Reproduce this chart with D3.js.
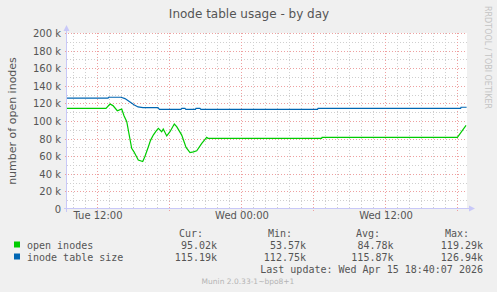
<!DOCTYPE html>
<html><head><meta charset="utf-8">
<script src="https://cdn.jsdelivr.net/npm/d3@7"></script>
<style>
html,body{margin:0;padding:0;background:#f0f0f0;}
svg{display:block;}
</style></head>
<body>
<svg id="chart" width="497" height="292"></svg>
<script>
// ---- data (hours since Tue 00:00) ----
const title = "Inode table usage - by day";
const yLabel = "number of open inodes";
const yTicks = [0, 20000, 40000, 60000, 80000, 100000, 120000, 140000, 160000, 180000, 200000];
const xTickHours = [12, 24, 36];
const xTickLabels = ["Tue 12:00", "Wed 00:00", "Wed 12:00"];
const xDomain = [9.5, 42.83];

const openHours = [9.5, 12.75, 13.08, 13.33, 13.69, 13.83, 14.06, 14.25, 14.48, 14.67, 14.89, 15.08, 15.44,
  15.81, 16.0, 16.28, 16.46, 16.69, 16.92, 17.11, 17.39, 17.52, 17.81, 18.08, 18.44, 18.64, 19.06, 19.42,
  19.75, 20.03, 20.31, 20.73, 21.14, 21.25, 30.72, 30.75, 42.03, 42.75];
const openValues = [114400, 114400, 119300, 117500, 111700, 112300, 113600, 106000, 99200, 85000, 69000, 65000, 55700,
  54000, 60000, 70800, 78000, 84000, 88500, 91700, 87800, 90900, 83000, 87800, 96600, 93500, 84000, 70000,
  64000, 65000, 66200, 74600, 81400, 80300, 80300, 81400, 81400, 95020];
const openAvg = [84780], openMin = [53570], openMax = [119290], openCur = [95020];

const sizeHours = [9.5, 12.92, 12.96, 14.0, 14.33, 14.75, 15.08, 15.42, 15.83, 17.08, 17.2,
  19.0, 19.06, 19.33, 19.4, 20.2, 20.25, 20.58, 20.65, 30.38, 30.42, 42.3, 42.33, 42.8];
const sizeValues = [125900, 125900, 127000, 127000, 125500, 121500, 118500, 116000, 115100, 115100, 113300,
  113300, 114300, 114300, 113300, 113300, 114300, 114300, 113300, 113300, 114400, 114400, 115600, 115600];

const legendNames = ["open inodes", "inode table size"];
const legendCur = ["95.02k", "115.19k"];
const legendMin = ["53.57k", "112.75k"];
const legendAvg = ["84.78k", "115.87k"];
const legendMax = ["119.29k", "126.94k"];
const colors = ["#00cc00", "#0066b3"];

// ---- layout ----
const svg = d3.select("#chart");
const L = 67, R = 467, T = 33, B = 209;
const x = d3.scaleLinear().domain(xDomain).range([L, R]);
const y = d3.scaleLinear().domain([0, 200000]).range([B, T]);

svg.append("rect").attr("x", L).attr("y", T).attr("width", R - L).attr("height", B - T).attr("fill", "#fff");

const minorX = d3.range(10, 43, 1).filter(h => h % 6 !== 0);
const majorX = d3.range(12, 43, 6);
const grid = svg.append("g").attr("shape-rendering", "crispEdges");
minorX.forEach(h => {
  const xp = Math.round(x(h)) + 0.5;
  grid.append("line").attr("x1", xp).attr("x2", xp).attr("y1", T).attr("y2", B)
    .attr("stroke", "#cfcfcf").attr("stroke-dasharray", "1,2");
});
d3.range(10000, 200001, 20000).forEach(v => {
  const yp = Math.round(y(v)) + 0.5;
  grid.append("line").attr("x1", L).attr("x2", R).attr("y1", yp).attr("y2", yp)
    .attr("stroke", "#cfcfcf").attr("stroke-dasharray", "1,2");
});
majorX.forEach(h => {
  const xp = Math.round(x(h)) + 0.5;
  grid.append("line").attr("x1", xp).attr("x2", xp).attr("y1", T).attr("y2", B + 3)
    .attr("stroke", "#eea0a0").attr("stroke-dasharray", "1,2");
});
yTicks.filter(v => v > 0).forEach(v => {
  const yp = Math.round(y(v)) + 0.5;
  grid.append("line").attr("x1", L - 2).attr("x2", R).attr("y1", yp).attr("y2", yp)
    .attr("stroke", "#eea0a0").attr("stroke-dasharray", "1,2");
});

const axisCol = "#c8c8f8";
svg.append("line").attr("x1", L - 0.5).attr("x2", L - 0.5).attr("y1", T - 4).attr("y2", B + 3)
  .attr("stroke", axisCol).attr("shape-rendering", "crispEdges");
svg.append("line").attr("x1", L - 3).attr("x2", R + 2).attr("y1", B - 0.5).attr("y2", B - 0.5)
  .attr("stroke", axisCol).attr("shape-rendering", "crispEdges");
svg.append("path").attr("d", `M${L-3.5},${T-2}L${L+2.5},${T-2}L${L-0.5},${T-8}Z`).attr("fill", axisCol);
svg.append("path").attr("d", `M${R+2},${B-3.5}L${R+2},${B+2.5}L${R+8},${B-0.5}Z`).attr("fill", axisCol);

const fnt = "DejaVu Sans, sans-serif";
yTicks.forEach(v => {
  svg.append("text").attr("x", 61).attr("y", y(v) + 4).attr("text-anchor", "end")
    .attr("font-family", fnt).attr("font-size", 10).attr("fill", "#555")
    .text(v === 0 ? "0" : (v / 1000) + " k");
});
xTickHours.forEach((h, i) => {
  svg.append("text").attr("x", x(h) + 1).attr("y", 219).attr("text-anchor", "middle")
    .attr("font-family", fnt).attr("font-size", 10).attr("fill", "#555").text(xTickLabels[i]);
});

svg.append("text").attr("x", 249).attr("y", 18).attr("text-anchor", "middle")
  .attr("font-family", fnt).attr("font-size", 12).attr("fill", "#555").text(title);
svg.append("text").attr("transform", "translate(16,121) rotate(-90)").attr("text-anchor", "middle")
  .attr("font-family", fnt).attr("font-size", 11).attr("fill", "#555").text(yLabel);
svg.append("text").attr("transform", "translate(485,6) rotate(90)").attr("text-anchor", "start")
  .attr("font-family", fnt).attr("font-size", 8).attr("fill", "#c4c4c4").text("RRDTOOL / TOBI OETIKER");

const line = d3.line().x(d => x(d[0])).y(d => y(d[1]));
svg.append("path").datum(sizeHours.map((h, i) => [h, sizeValues[i]]))
  .attr("d", line).attr("fill", "none").attr("stroke", colors[1]).attr("stroke-width", 1.2);
svg.append("path").datum(openHours.map((h, i) => [h, openValues[i]]))
  .attr("d", line).attr("fill", "none").attr("stroke", colors[0]).attr("stroke-width", 1.2);

const mono = "DejaVu Sans Mono, monospace";
const cols = [[203, "Cur:", legendCur, 217], [292, "Min:", legendMin, 306], [380, "Avg:", legendAvg, 393.5], [469, "Max:", legendMax, 483]];
cols.forEach(c => {
  svg.append("text").attr("x", c[0]).attr("y", 237).attr("text-anchor", "end")
    .attr("font-family", mono).attr("font-size", 10).attr("fill", "#555").text(c[1]);
  c[2].forEach((t, i) => {
    svg.append("text").attr("x", c[3]).attr("y", 249 + i * 12).attr("text-anchor", "end")
      .attr("font-family", mono).attr("font-size", 10).attr("fill", "#555").text(t);
  });
});
legendNames.forEach((n, i) => {
  svg.append("rect").attr("x", 14).attr("y", 241.5 + i * 12).attr("width", 6).attr("height", 6).attr("fill", colors[i]);
  svg.append("text").attr("x", 27).attr("y", 249 + i * 12).attr("font-family", mono).attr("font-size", 10)
    .attr("fill", "#555").text(n);
});
svg.append("text").attr("x", 483).attr("y", 273).attr("text-anchor", "end")
  .attr("font-family", mono).attr("font-size", 10).attr("fill", "#555").text("Last update: Wed Apr 15 18:40:07 2026");
svg.append("text").attr("x", 248).attr("y", 284).attr("text-anchor", "middle")
  .attr("font-family", fnt).attr("font-size", 7.5).attr("fill", "#b4b4b4").text("Munin 2.0.33-1~bpo8+1");
</script>
</body></html>
